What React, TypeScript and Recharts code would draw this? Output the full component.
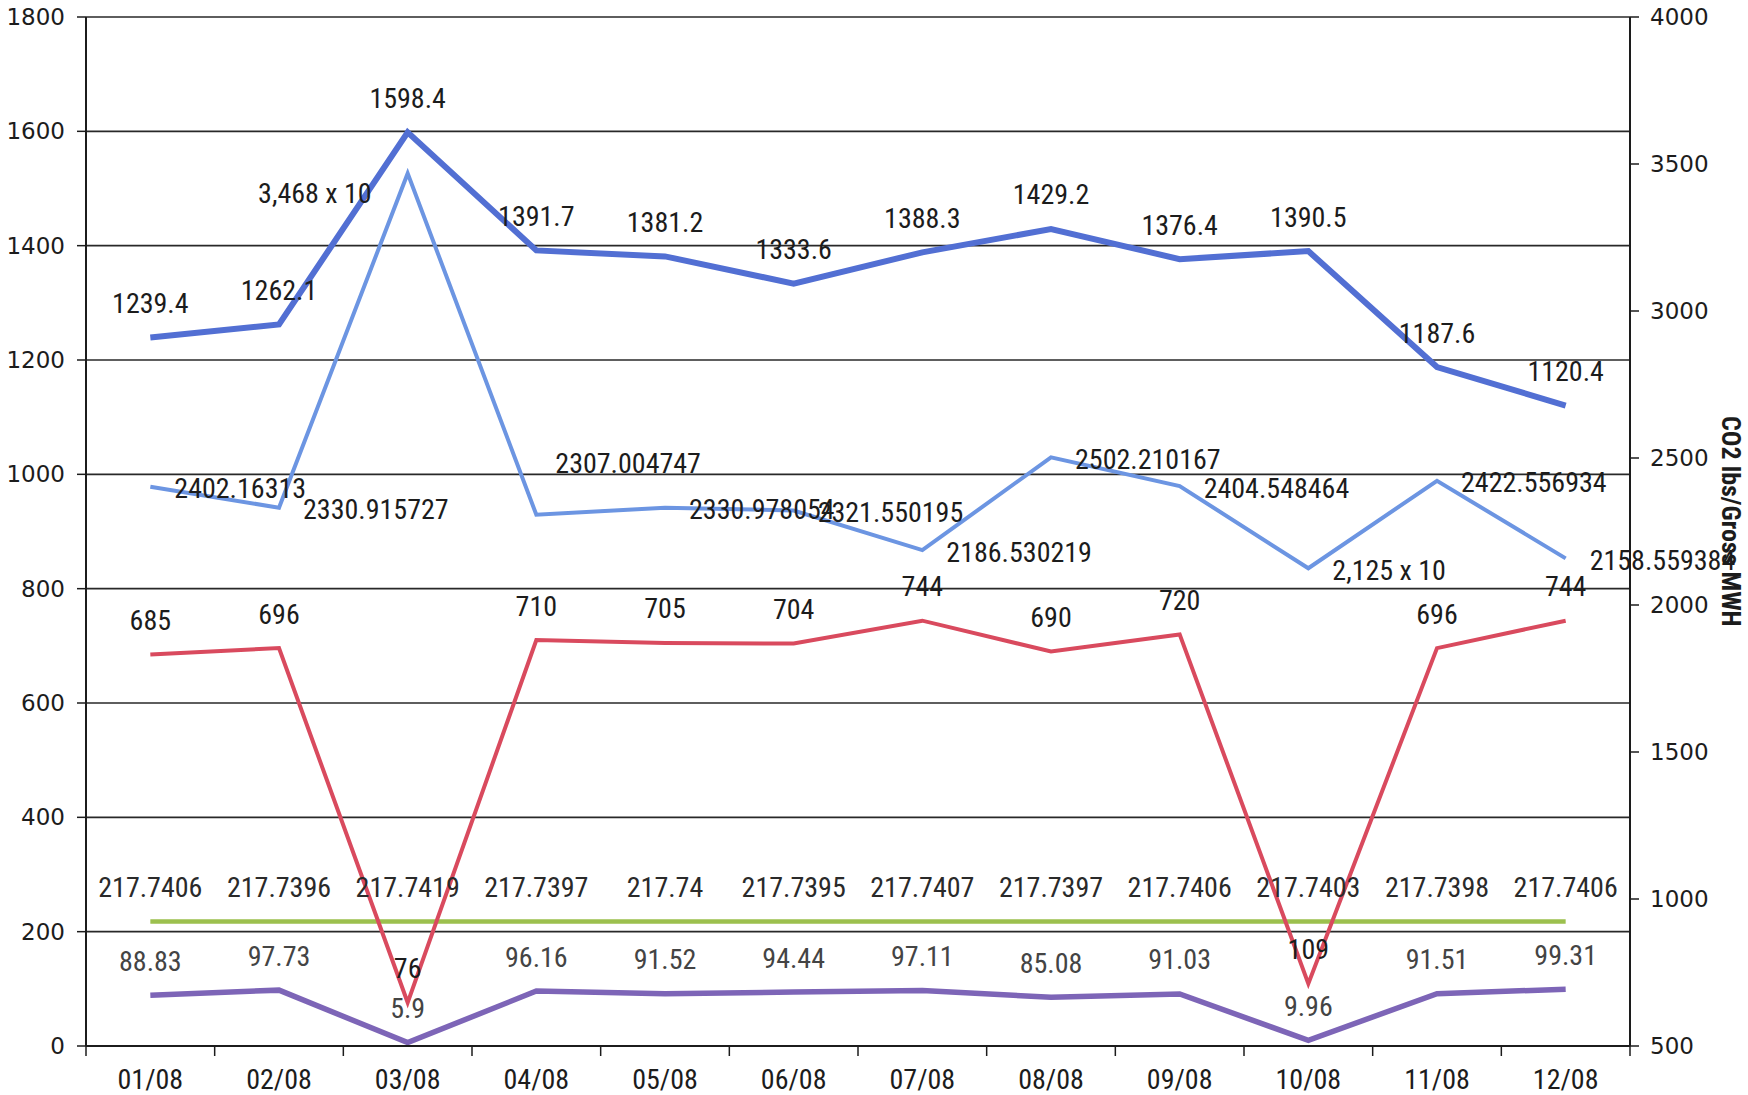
import React from 'react';
import { LineChart, Line, XAxis, YAxis, CartesianGrid, LabelList } from 'recharts';

// ---------- data ----------
const months = ['01/08', '02/08', '03/08', '04/08', '05/08', '06/08', '07/08', '08/08', '09/08', '10/08', '11/08', '12/08'];
const grossLoad = [1239.4, 1262.1, 1598.4, 1391.7, 1381.2, 1333.6, 1388.3, 1429.2, 1376.4, 1390.5, 1187.6, 1120.4];
const co2Rate = [2402.16313, 2330.915727, 3468, 2307.004747, 2330.978054, 2321.550195, 2186.530219, 2502.210167, 2404.548464, 2125, 2422.556934, 2158.559384];
const co2RateLabels = ['2402.16313', '2330.915727', '3,468  x 10', '2307.004747', '2330.978054', '2321.550195', '2186.530219', '2502.210167', '2404.548464', '2,125 x 10', '2422.556934', '2158.559384'];
const redSeries = [685, 696, 76, 710, 705, 704, 744, 690, 720, 109, 696, 744];
const greenSeries = [217.7406, 217.7396, 217.7419, 217.7397, 217.74, 217.7395, 217.7407, 217.7397, 217.7406, 217.7403, 217.7398, 217.7406];
const purpleSeries = [88.83, 97.73, 5.9, 96.16, 91.52, 94.44, 97.11, 85.08, 91.03, 9.96, 91.51, 99.31];
const leftTicks = [0, 200, 400, 600, 800, 1000, 1200, 1400, 1600, 1800];
const rightTicks = [500, 1000, 1500, 2000, 2500, 3000, 3500, 4000];
const rightTitle = 'CO2 lbs/Gross MWH';

// label placement for the light-blue series (as in the source chart)
const co2Placement = ['right', 'right', 'left', 'aboveRight', 'right', 'right', 'right', 'right', 'right', 'right', 'right', 'right'];

const data = months.map((m, i) => ({
  m,
  gross: grossLoad[i],
  co2: co2Rate[i],
  red: redSeries[i],
  green: greenSeries[i],
  purple: purpleSeries[i],
}));

// ---------- layout ----------
const W = 1748;
const H = 1095;
const PLOT_L = 86;
const PLOT_R = 1630;
const PLOT_T = 17;
const PLOT_B = 1046;
const BAND = (PLOT_R - PLOT_L) / months.length;

const LABEL_FONT = "'Liberation Sans Narrow', 'Arial Narrow', 'Roboto Condensed', sans-serif";
const AXIS_FONT = "'DejaVu Sans', Verdana, sans-serif";
const INK = '#1c1c1c';

const XTick = (props: any) => {
  const { x, y, payload, index } = props;
  return (
    <g>
      <line x1={x - BAND / 2} x2={x - BAND / 2} y1={y} y2={y + 10} stroke={INK} strokeWidth={1.5} />
      {index === months.length - 1 && (
        <line x1={x + BAND / 2} x2={x + BAND / 2} y1={y} y2={y + 10} stroke={INK} strokeWidth={1.5} />
      )}
      <text x={x} y={y + 33} textAnchor="middle" dominantBaseline="central" fontFamily={LABEL_FONT} fontSize={28} fill={INK}>
        {payload.value}
      </text>
    </g>
  );
};

const makeLabel = (texts: string[] | null, placements: string[] | null, color: string) => (p: any) => {
  const { x, y, value, index } = p;
  if (x == null || y == null) return null;
  const txt = texts ? texts[index] : String(value);
  const place = placements ? placements[index] : 'above';
  let tx = x;
  let ty = y - 34;
  let anchor: any = 'middle';
  if (place === 'right') {
    tx = x + 24;
    ty = y + 2;
    anchor = 'start';
  } else if (place === 'left') {
    tx = x - 36;
    ty = y + 20;
    anchor = 'end';
  } else if (place === 'aboveRight') {
    tx = x + 19;
    ty = y - 51;
    anchor = 'start';
  }
  return (
    <text x={tx} y={ty} textAnchor={anchor} dominantBaseline="central" fontFamily={LABEL_FONT} fontSize={28} fill={color}>
      {txt}
    </text>
  );
};

export default function App() {
  return (
    <div style={{ position: 'absolute', left: 0, top: 0, width: W, height: H, background: '#fff' }}>
      <LineChart width={W} height={H} data={data} margin={{ top: PLOT_T, right: 0, bottom: 0, left: 0 }}>
        <CartesianGrid yAxisId="left" vertical={false} stroke={INK} strokeWidth={1.6} strokeOpacity={0.95} />
        <XAxis
          dataKey="m"
          height={H - PLOT_B}
          padding={{ left: BAND / 2, right: BAND / 2 }}
          axisLine={{ stroke: INK, strokeWidth: 2 }}
          tickLine={false}
          tickSize={0}
          tickMargin={0}
          interval={0}
          tick={<XTick />}
        />
        <YAxis
          yAxisId="left"
          width={PLOT_L}
          domain={[0, 1800]}
          ticks={leftTicks}
          interval={0}
          axisLine={{ stroke: INK, strokeWidth: 2 }}
          tickLine={{ stroke: INK, strokeWidth: 1.5 }}
          tickSize={9}
          tickMargin={12}
          tick={{ fontFamily: AXIS_FONT, fontSize: 23, fill: INK }}
        />
        <YAxis
          yAxisId="right"
          orientation="right"
          width={W - PLOT_R}
          domain={[500, 4000]}
          ticks={rightTicks}
          interval={0}
          axisLine={{ stroke: INK, strokeWidth: 2 }}
          tickLine={{ stroke: INK, strokeWidth: 1.5 }}
          tickSize={9}
          tickMargin={11}
          tick={{ fontFamily: AXIS_FONT, fontSize: 23, fill: INK, textAnchor: 'start' }}
        />
        <Line yAxisId="left" dataKey="green" stroke="#9cc04e" strokeWidth={4.5} dot={false} isAnimationActive={false}>
          <LabelList dataKey="green" content={makeLabel(null, null, '#2a2a2a')} />
        </Line>
        <Line yAxisId="left" dataKey="purple" stroke="#7d65b7" strokeWidth={5.5} dot={false} isAnimationActive={false}>
          <LabelList dataKey="purple" content={makeLabel(null, null, '#444')} />
        </Line>
        <Line yAxisId="left" dataKey="red" stroke="#d94a5e" strokeWidth={4} dot={false} isAnimationActive={false}>
          <LabelList dataKey="red" content={makeLabel(null, null, INK)} />
        </Line>
        <Line yAxisId="right" dataKey="co2" stroke="#6c95e2" strokeWidth={4} dot={false} isAnimationActive={false}>
          <LabelList dataKey="co2" content={makeLabel(co2RateLabels, co2Placement, INK)} />
        </Line>
        <Line yAxisId="left" dataKey="gross" stroke="#526fd3" strokeWidth={6} dot={false} isAnimationActive={false}>
          <LabelList dataKey="gross" content={makeLabel(null, null, INK)} />
        </Line>
      </LineChart>
      <div
        style={{
          position: 'absolute',
          left: 1716,
          top: 416,
          writingMode: 'vertical-rl',
          fontFamily: LABEL_FONT,
          fontWeight: 'bold',
          fontSize: 26,
          color: INK,
          whiteSpace: 'nowrap',
          lineHeight: '30px',
        }}
      >
        {rightTitle}
      </div>
    </div>
  );
}
